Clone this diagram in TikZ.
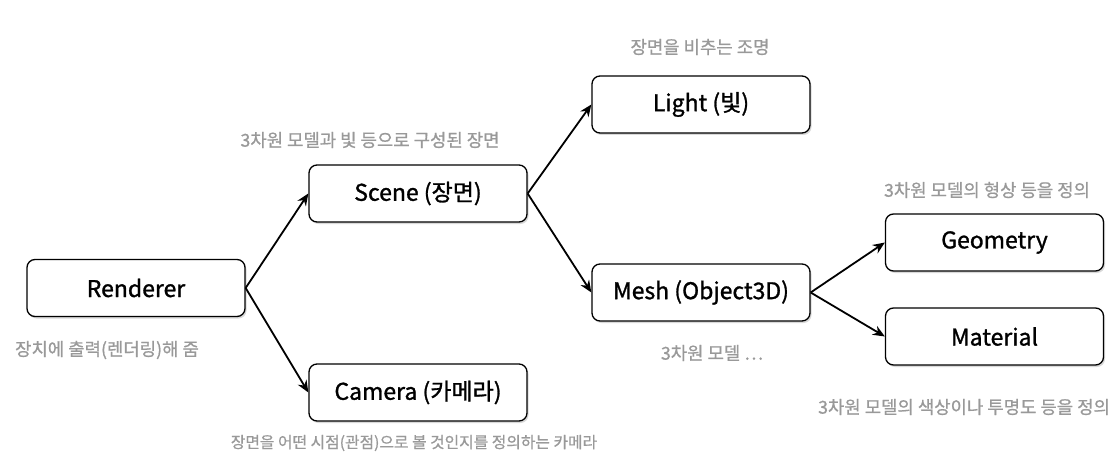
\documentclass[tikz,border=0pt]{standalone}
\usepackage{fontspec}
\setmainfont{Noto Sans CJK KR}
\newfontfamily\boxfont[FakeBold=1.2]{Noto Sans CJK KR}
\newfontfamily\notefont[FakeBold=0.8]{Noto Sans CJK KR}
\usepackage{tikz}
\usetikzlibrary{arrows.meta}
\usetikzlibrary{shadows}
\colorlet{notegray}{black!40}
\tikzstyle{objbox}=[draw,line width=1.3pt,rounded corners=8pt,fill=white,minimum width=218pt,minimum height=57pt,inner sep=0pt,font=\boxfont\fontsize{23}{27}\selectfont,drop shadow={opacity=.3,shadow xshift=1.5pt,shadow yshift=-2pt}]
\tikzstyle{note}=[text=notegray,inner sep=0pt,font=\notefont\fontsize{17.8}{21}\selectfont]
\tikzstyle{link}=[line width=1.8pt,-{Stealth[length=12pt,width=10pt]}]

\begin{document}
\begin{tikzpicture}[x=1pt,y=-1pt]
	\useasboundingbox (0,0) rectangle (1119,476);
	\node[objbox] (renderer) at (136,288)   {Renderer};
	\node[objbox] (scene)    at (418,193.5) {Scene (장면)};
	\node[objbox] (camera)   at (418,392.5) {Camera (카메라)};
	\node[objbox] (light)    at (701,104.5) {Light (빛)};
	\node[objbox] (mesh)     at (701,292.5) {Mesh (Object3D)};
	\node[objbox] (geometry) at (994.5,242.5) {Geometry};
	\node[objbox] (material) at (994.5,336.5) {Material};
	\node[note] (renderer-note) at (107,350) {장치에 출력(렌더링)해 줌};
	\node[note] (scene-note)    at (370,140) {3차원 모델과 빛 등으로 구성된 장면};
	\node[note,font=\notefont\fontsize{15.8}{19}\selectfont] (camera-note) at (414,443) {장면을 어떤 시점(관점)으로 볼 것인지를 정의하는 카메라};
	\node[note] (light-note)    at (700,47)  {장면을 비추는 조명};
	\node[note] (mesh-note)     at (712,353) {3차원 모델 ⋯};
	\node[note] (geometry-note) at (987,190) {3차원 모델의 형상 등을 정의};
	\node[note] (material-note) at (964,407) {3차원 모델의 색상이나 투명도 등을 정의};
	\draw[link] (renderer.east) -- (scene.west);
	\draw[link] (renderer.east) -- (camera.west);
	\draw[link] (scene.east) -- (light.west);
	\draw[link] (scene.east) -- (mesh.west);
	\draw[link] (mesh.east) -- (geometry.west);
	\draw[link] (mesh.east) -- (material.west);
\end{tikzpicture}
\end{document}
